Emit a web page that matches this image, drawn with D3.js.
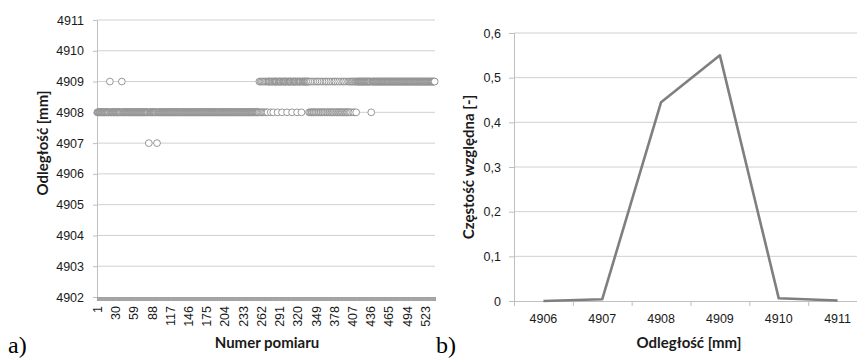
<!DOCTYPE html>
<html>
<head>
<meta charset="utf-8">
<script src="https://cdn.jsdelivr.net/npm/d3@7"></script>
<style>
  body { margin: 0; background: #fff; }
  svg { display: block; font-family: Lato, "Open Sans", sans-serif; }
</style>
</head>
<body>
<svg id="chart" width="857" height="358"></svg>
<script>
/* -----------------    DATA     ------------------ */

// a) measurement series: runs of one value, then single points that differ
const measurementCount = 538;
const valueRuns = [[1, 270, 4908], [271, 337, 4909], [338, 400, 4908], [401, 538, 4909]];
const pointsAt4909 = [21, 40, 259, 261, 263, 265, 267, 269,
    339, 341, 344, 347, 350, 352, 355, 358, 361, 364, 366, 369, 372,
    375, 378, 380, 383, 386, 389, 392, 394, 397, 400];
const pointsAt4908 = [262, 264, 266, 268, 272, 277, 281, 288, 295, 303, 311, 319, 326,
    401, 403, 405, 408, 410, 413, 437];
const pointsAt4907 = [83, 96];
const measurementLabels = [1, 30, 59, 88, 117, 146, 175, 204, 233, 262, 291, 320,
    349, 378, 407, 436, 465, 494, 523];
const distanceTicks = [4902, 4903, 4904, 4905, 4906, 4907, 4908, 4909, 4910, 4911];

// b) relative frequency
const distanceCats = [4906, 4907, 4908, 4909, 4910, 4911];
const relFrequency = [0, 0.004, 0.445, 0.55, 0.006, 0.001];
const freqTicks = [0, 0.1, 0.2, 0.3, 0.4, 0.5, 0.6];

/* -----------------    SETTINGS     ------------------ */
const settings = {
    gridColor: '#d0d0d0',
    axisColor: '#bfbfbf',
    tickColor: '#a0a0a0',
    markColor: '#7f7f7f',
    textColor: '#1a1a1a'
};

const svg = d3.select('#chart');

// build the measurement list from the runs
const measurements = [];
valueRuns.forEach(([from, to, v]) => {
    for (let i = from; i <= to; i++) measurements.push({ n: i, v });
});
const setValue = (list, v) => list.forEach(n => { measurements[n - 1].v = v; });
setValue(pointsAt4909, 4909);
setValue(pointsAt4908, 4908);
setValue(pointsAt4907, 4907);

/* -----------------    CHART A     ------------------ */
const a = { left: 97, right: 435, top: 20, bottom: 297 };

const xA = d3.scaleBand()
    .domain(d3.range(1, measurementCount + 1))
    .range([a.left, a.right]);
const xAEdge = d3.scaleLinear().domain([0, measurementCount]).range([a.left, a.right]);
const yA = d3.scaleLinear().domain([4902, 4911]).range([a.bottom, a.top]);

const gA = svg.append('g');

// gridlines
gA.append('g')
    .selectAll('line')
    .data(distanceTicks.slice(1))
    .enter()
    .append('line')
    .attr('x1', a.left).attr('x2', a.right)
    .attr('y1', d => yA(d)).attr('y2', d => yA(d))
    .attr('stroke', settings.gridColor);

// y axis
const yAxisA = gA.append('g')
    .attr('transform', `translate(${a.left},0)`)
    .call(d3.axisLeft(yA).tickValues(distanceTicks).tickSize(4).tickPadding(9).tickFormat(d3.format('d')));

// x axis: one tick per measurement, labels every 29th
const xEdgeAxis = gA.append('g')
    .attr('transform', `translate(0,${a.bottom})`)
    .call(d3.axisBottom(xAEdge).tickValues(d3.range(0, measurementCount + 1)).tickSize(4).tickFormat(''));

const xLabelAxis = gA.append('g')
    .attr('transform', `translate(0,${a.bottom})`)
    .call(d3.axisBottom(xA).tickValues(measurementLabels).tickSize(0).tickPadding(0));
xLabelAxis.select('.domain').remove();
xLabelAxis.selectAll('text')
    .attr('transform', 'translate(0,9) rotate(-90)')
    .attr('dy', '0.35em')
    .attr('text-anchor', 'end')
    .attr('x', 0).attr('y', 0);

[yAxisA, xEdgeAxis].forEach(g => {
    g.select('.domain').attr('stroke', settings.axisColor);
    g.selectAll('.tick line').attr('stroke', settings.axisColor);
});
xEdgeAxis.selectAll('.tick line').attr('stroke', settings.tickColor);
[yAxisA, xLabelAxis].forEach(g => {
    g.selectAll('text').attr('fill', settings.textColor).style('font-size', '12.5px');
});

// markers
gA.append('g')
    .selectAll('circle')
    .data(measurements)
    .enter()
    .append('circle')
    .attr('cx', d => xA(d.n) + xA.bandwidth() / 2)
    .attr('cy', d => yA(d.v))
    .attr('r', 3.4)
    .attr('fill', '#fff')
    .attr('stroke', settings.markColor)
    .attr('stroke-width', 0.8);

gA.append('text')
    .attr('transform', 'translate(48,143) rotate(-90)')
    .attr('text-anchor', 'middle')
    .style('font-size', '15px').style('font-weight', 'bold')
    .attr('fill', settings.textColor)
    .text('Odległość [mm]');

gA.append('text')
    .attr('x', 267).attr('y', 348)
    .attr('text-anchor', 'middle')
    .style('font-size', '15px').style('font-weight', 'bold')
    .attr('fill', settings.textColor)
    .text('Numer pomiaru');

/* -----------------    CHART B     ------------------ */
const b = { left: 514, right: 867, top: 33, bottom: 301 };

const xB = d3.scaleBand().domain(distanceCats).range([b.left, b.right]);
const xBEdge = d3.scaleLinear().domain([0, distanceCats.length]).range([b.left, b.right]);
const yB = d3.scaleLinear().domain([0, 0.6]).range([b.bottom, b.top]);

const gB = svg.append('g');

gB.append('g')
    .selectAll('line')
    .data(freqTicks.slice(1))
    .enter()
    .append('line')
    .attr('x1', b.left).attr('x2', b.right)
    .attr('y1', d => yB(d)).attr('y2', d => yB(d))
    .attr('stroke', settings.gridColor);

const yAxisB = gB.append('g')
    .attr('transform', `translate(${b.left},0)`)
    .call(d3.axisLeft(yB).tickValues(freqTicks).tickSize(5).tickPadding(8)
        .tickFormat(d => d === 0 ? '0' : d.toFixed(1).replace('.', ',')));

const xEdgeB = gB.append('g')
    .attr('transform', `translate(0,${b.bottom})`)
    .call(d3.axisBottom(xBEdge).tickValues(d3.range(0, distanceCats.length + 1)).tickSize(5).tickFormat(''));

const xLabelB = gB.append('g')
    .attr('transform', `translate(0,${b.bottom})`)
    .call(d3.axisBottom(xB).tickSize(0).tickPadding(13));
xLabelB.select('.domain').remove();

[yAxisB, xEdgeB].forEach(g => {
    g.select('.domain').attr('stroke', settings.axisColor);
    g.selectAll('.tick line').attr('stroke', settings.axisColor);
});
[yAxisB, xLabelB].forEach(g => {
    g.selectAll('text').attr('fill', settings.textColor).style('font-size', '12.5px');
});

const line = d3.line()
    .x((d, i) => xB(distanceCats[i]) + xB.bandwidth() / 2)
    .y(d => yB(d));

gB.append('path')
    .datum(relFrequency)
    .attr('d', line)
    .attr('fill', 'none')
    .attr('stroke', settings.markColor)
    .attr('stroke-width', 2.6)
    .attr('stroke-linejoin', 'round');

gB.append('text')
    .attr('transform', `translate(474,${(b.top + b.bottom) / 2}) rotate(-90)`)
    .attr('text-anchor', 'middle')
    .style('font-size', '15px').style('font-weight', 'bold')
    .attr('fill', settings.textColor)
    .text('Częstość względna [-]');

gB.append('text')
    .attr('x', 689).attr('y', 348)
    .attr('text-anchor', 'middle')
    .style('font-size', '15px').style('font-weight', 'bold')
    .attr('fill', settings.textColor)
    .text('Odległość [mm]');

/* -----------------    PANEL LETTERS     ------------------ */
svg.selectAll('text.panel')
    .data([{ t: 'a)', x: 8 }, { t: 'b)', x: 436 }])
    .enter()
    .append('text')
    .attr('class', 'panel')
    .attr('x', d => d.x).attr('y', 353)
    .style('font-family', '"Liberation Serif", "DejaVu Serif", serif')
    .style('font-size', '24px')
    .attr('fill', '#000')
    .text(d => d.t);
</script>
</body>
</html>
